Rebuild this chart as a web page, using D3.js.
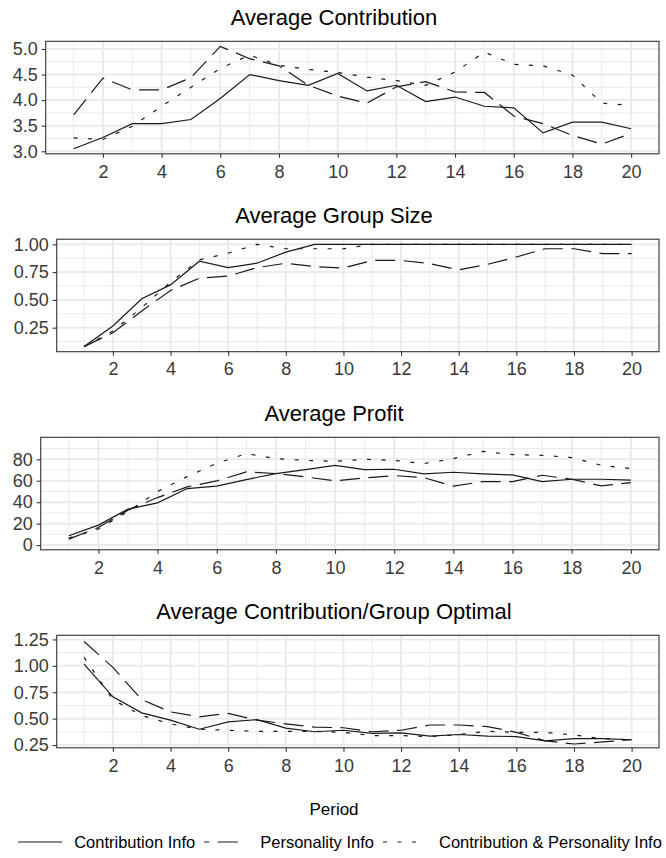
<!DOCTYPE html>
<html>
<head>
<meta charset="utf-8">
<script src="https://cdn.jsdelivr.net/npm/d3@7/dist/d3.min.js"></script>
<style>
  body { margin: 0; background: #fff; }
  svg { display: block; }
</style>
</head>
<body>
<svg id="chart" width="666" height="858"></svg>
<script>
// ---- data -------------------------------------------------------------
const periods = d3.range(1, 21);
const seriesNames = ["Contribution Info", "Personality Info", "Contribution & Personality Info"];

// Average Contribution
const contribCI  = [3.05,3.27,3.54,3.54,3.62,4.03,4.50,4.38,4.29,4.52,4.18,4.29,3.97,4.06,3.88,3.85,3.36,3.57,3.57,3.44];
const contribPI  = [3.71,4.43,4.20,4.20,4.44,5.05,4.81,4.67,4.29,4.08,3.94,4.26,4.36,4.16,4.15,3.69,3.54,3.31,3.14,3.35];
const contribCPI = [3.26,3.23,3.49,3.88,4.25,4.62,4.88,4.68,4.60,4.54,4.45,4.38,4.29,4.55,4.94,4.70,4.67,4.49,3.94,3.90];

// Average Group Size
const groupCI  = [0.08,0.265,0.51,0.635,0.848,0.79,0.83,0.93,1,1,1,1,1,1,1,1,1,1,1,1];
const groupPI  = [0.08,0.205,0.40,0.585,0.695,0.715,0.79,0.83,0.80,0.787,0.855,0.855,0.826,0.77,0.82,0.886,0.96,0.96,0.916,0.916];
const groupCPI = [0.08,0.22,0.43,0.66,0.86,0.92,1.00,0.96,0.96,0.96,1,1,1,1,1,1,1,1,1,1];

// Average Profit
const profitCI  = [8.7,18.6,33.5,39.4,52.7,54.9,61.1,66.7,70.4,74.4,70.4,70.7,66.4,67.9,66.4,65.4,59.2,61.4,61.4,60.5];
const profitPI  = [5.6,16.4,32.6,44.3,54.3,59.8,68.2,66.7,63.6,59.8,62.6,64.8,62.9,54.9,59.2,59.2,65.1,61.4,55.2,58.3];
const profitCPI = [6.5,15.0,31.3,49.9,63.8,76.3,85.3,80.6,79.0,78.1,80.0,79.0,76.0,80.6,87.4,84.3,83.7,81.6,74.4,71.3];

// Average Contribution / Group Optimal
const optimalCI  = [1.016,0.706,0.555,0.486,0.40,0.47,0.49,0.41,0.376,0.39,0.36,0.366,0.335,0.35,0.335,0.33,0.29,0.31,0.31,0.30];
const optimalPI  = [1.23,0.985,0.68,0.564,0.517,0.55,0.486,0.45,0.42,0.414,0.376,0.39,0.44,0.44,0.425,0.37,0.29,0.26,0.28,0.30];
const optimalCPI = [1.08,0.68,0.53,0.45,0.40,0.39,0.38,0.38,0.38,0.37,0.34,0.34,0.33,0.35,0.38,0.37,0.37,0.345,0.31,0.30];

// tick labels
const xTicks = [2,4,6,8,10,12,14,16,18,20];
const contribTicks = [3.0,3.5,4.0,4.5,5.0];
const groupTicks   = [0.25,0.50,0.75,1.00];
const profitTicks  = [0,20,40,60,80];
const optimalTicks = [0.25,0.50,0.75,1.00,1.25];

// ---- layout -----------------------------------------------------------
const FONT = "'Liberation Sans', Arial, Helvetica, sans-serif";
const panelRight = 659;
const panelH = 112.5;
const dashes = [null, "20,8.5", "4,10.5"];
// legend keys show a short stretch of each pattern
const keyDashes = [null, "5,8.5,20,100", "4,10.5,4,10.5,4,100"];

const panels = [
  { title: "Average Contribution", series: [contribCI, contribPI, contribCPI],
    ticks: contribTicks, fmt: d3.format(".1f"), domain: [2.95, 5.15], top: 41.3, left: 45.7 },
  { title: "Average Group Size", series: [groupCI, groupPI, groupCPI],
    ticks: groupTicks, fmt: d3.format(".2f"), domain: [0.034, 1.046], top: 239.2, left: 56.7 },
  { title: "Average Profit", series: [profitCI, profitPI, profitCPI],
    ticks: profitTicks, fmt: d3.format("d"), domain: [-4.4, 100.5], top: 437.3, left: 40.7 },
  { title: "Average Contribution/Group Optimal", series: [optimalCI, optimalPI, optimalCPI],
    ticks: optimalTicks, fmt: d3.format(".2f"), domain: [0.224, 1.289], top: 635.3, left: 56.7 }
];

const svg = d3.select("#chart");

panels.forEach(p => {
  const x = d3.scaleLinear().domain([0.05, 20.95]).range([p.left, panelRight]);
  const y = d3.scaleLinear().domain(p.domain).range([p.top + panelH, p.top]);
  const g = svg.append("g");

  // title
  g.append("text")
    .attr("x", 334).attr("y", p.top - 16.5)
    .attr("text-anchor", "middle")
    .attr("font-family", FONT).attr("font-size", 22).attr("fill", "#000")
    .text(p.title);

  // grid: minor then major
  const yStep = p.ticks[1] - p.ticks[0];
  const yMinor = d3.range(p.ticks[0] - yStep / 2, p.ticks[p.ticks.length - 1] + yStep, yStep)
    .filter(v => v > p.domain[0] && v < p.domain[1]);
  const xMinor = d3.range(1, 22, 2).filter(v => v > 0.05 && v < 20.95);
  const grid = g.append("g");
  grid.selectAll(".ymin").data(yMinor).join("line")
    .attr("x1", p.left).attr("x2", panelRight)
    .attr("y1", d => y(d)).attr("y2", d => y(d))
    .attr("stroke", "#ebebeb").attr("stroke-width", 1);
  grid.selectAll(".xmin").data(xMinor).join("line")
    .attr("y1", p.top).attr("y2", p.top + panelH)
    .attr("x1", d => x(d)).attr("x2", d => x(d))
    .attr("stroke", "#ebebeb").attr("stroke-width", 1);
  grid.selectAll(".ymaj").data(p.ticks).join("line")
    .attr("x1", p.left).attr("x2", panelRight)
    .attr("y1", d => y(d)).attr("y2", d => y(d))
    .attr("stroke", "#ebebeb").attr("stroke-width", 2);
  grid.selectAll(".xmaj").data(xTicks).join("line")
    .attr("y1", p.top).attr("y2", p.top + panelH)
    .attr("x1", d => x(d)).attr("x2", d => x(d))
    .attr("stroke", "#ebebeb").attr("stroke-width", 2);

  // series lines
  const line = d3.line().x((d, i) => x(periods[i])).y(d => y(d));
  p.series.forEach((vals, k) => {
    g.append("path")
      .datum(vals)
      .attr("d", line)
      .attr("fill", "none")
      .attr("stroke", "#1a1a1a")
      .attr("stroke-width", 1.2)
      .attr("stroke-dasharray", dashes[k]);
  });

  // border
  g.append("rect")
    .attr("x", p.left).attr("y", p.top)
    .attr("width", panelRight - p.left).attr("height", panelH)
    .attr("fill", "none").attr("stroke", "#333").attr("stroke-width", 1.1);

  // axes
  const ax = g.append("g")
    .attr("transform", `translate(0,${p.top + panelH})`)
    .call(d3.axisBottom(x).tickValues(xTicks).tickSize(4).tickPadding(7));
  const ay = g.append("g")
    .attr("transform", `translate(${p.left},0)`)
    .call(d3.axisLeft(y).tickValues(p.ticks).tickFormat(p.fmt).tickSize(4).tickPadding(4));
  [ax, ay].forEach(a => {
    a.select(".domain").remove();
    a.selectAll("line").attr("stroke", "#333").attr("stroke-width", 1.1);
    a.selectAll("text").attr("font-family", FONT).attr("font-size", 18).attr("fill", "#3a3a3a");
  });
});

// x axis title
svg.append("text")
  .attr("x", 334).attr("y", 815)
  .attr("text-anchor", "middle")
  .attr("font-family", FONT).attr("font-size", 17).attr("fill", "#000")
  .text("Period");

// legend
const legend = svg.append("g");
const keyW = 44, keyGap = 12, itemGap = 9, legendY = 842;
let cursor = 0;
seriesNames.forEach((name, k) => {
  const item = legend.append("g").attr("transform", `translate(${cursor},0)`);
  item.append("line")
    .attr("x1", 0).attr("x2", keyW).attr("y1", legendY).attr("y2", legendY)
    .attr("stroke", "#1a1a1a").attr("stroke-width", 1.2)
    .attr("stroke-dasharray", keyDashes[k]);
  const t = item.append("text")
    .attr("x", keyW + keyGap).attr("y", legendY + 6)
    .attr("font-family", FONT).attr("font-size", 16.5).attr("fill", "#000")
    .text(name);
  cursor += keyW + keyGap + t.node().getComputedTextLength() + itemGap;
});
const legendW = cursor - itemGap;
legend.attr("transform", `translate(${340 - legendW / 2},0)`);
</script>
</body>
</html>
